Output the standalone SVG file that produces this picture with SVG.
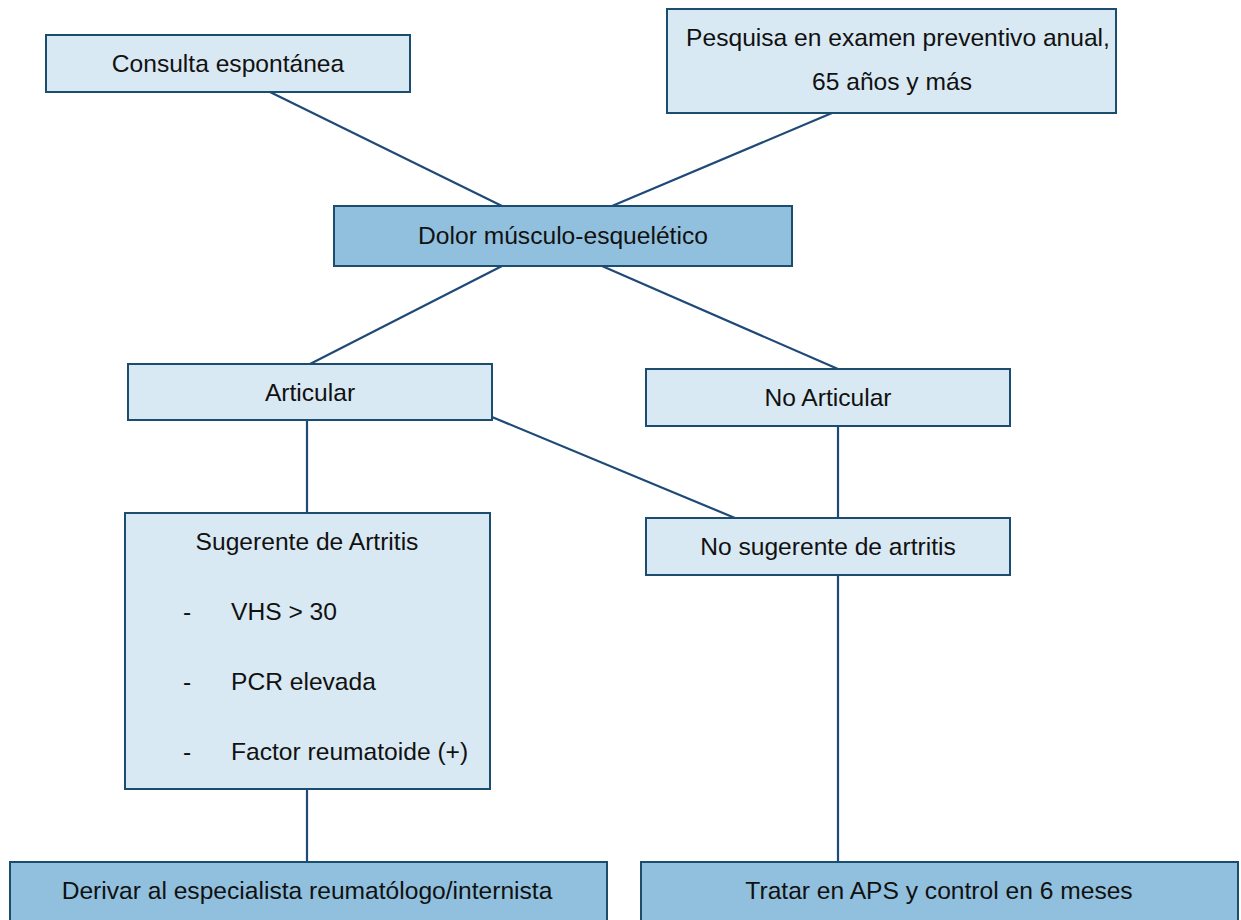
<svg xmlns="http://www.w3.org/2000/svg" width="1241" height="920" viewBox="0 0 1241 920">
<style>
.light{fill:#d9e9f3;stroke:#1a4d6e;stroke-width:2}
.dark{fill:#90c0de;stroke:#1a4d6e;stroke-width:2}
.t{font-family:"Liberation Sans",Arial,sans-serif;font-size:24.6px;fill:#111;text-anchor:middle;dominant-baseline:central}
.tl{text-anchor:start}
.conn line{stroke:#1f4a78;stroke-width:2.2}
</style>
<rect width="1241" height="920" fill="#fff"/>
<g class="conn">
<line x1="270" y1="92" x2="502" y2="206"/>
<line x1="832" y1="113" x2="612" y2="206"/>
<line x1="502" y1="266" x2="310" y2="364"/>
<line x1="602" y1="266" x2="838" y2="369"/>
<line x1="307" y1="420" x2="307" y2="513"/>
<line x1="492" y1="417" x2="735" y2="518"/>
<line x1="838" y1="426" x2="838" y2="518"/>
<line x1="307" y1="789" x2="307" y2="862"/>
<line x1="838" y1="575" x2="838" y2="862"/>
</g>
<g id="consulta"><rect class="light" x="46" y="35" width="364" height="57"/><text class="t" x="228" y="63">Consulta espontánea</text></g>
<g id="pesquisa"><rect class="light" x="667" y="9" width="449" height="104"/><text class="t" x="898" y="37">Pesquisa en examen preventivo anual,</text><text class="t" x="892" y="81">65 años y más</text></g>
<g id="dolor"><rect class="dark" x="334" y="206" width="458" height="60"/><text class="t" x="563" y="235">Dolor músculo-esquelético</text></g>
<g id="articular"><rect class="light" x="128" y="364" width="364" height="56"/><text class="t" x="310" y="392">Articular</text></g>
<g id="noarticular"><rect class="light" x="646" y="369" width="364" height="57"/><text class="t" x="828" y="397">No Articular</text></g>
<g id="sugerente"><rect class="light" x="125" y="513" width="365" height="276"/>
<text class="t" x="307" y="541">Sugerente de Artritis</text>
<text class="t tl" x="183" y="611">-</text><text class="t tl" x="231" y="611">VHS &gt; 30</text>
<text class="t tl" x="183" y="681">-</text><text class="t tl" x="231" y="681">PCR elevada</text>
<text class="t tl" x="183" y="751">-</text><text class="t tl" x="231" y="751">Factor reumatoide (+)</text>
</g>
<g id="nosugerente"><rect class="light" x="646" y="518" width="364" height="57"/><text class="t" x="828" y="546">No sugerente de artritis</text></g>
<g id="derivar"><rect class="dark" x="10" y="862" width="597" height="70"/><text class="t" x="307" y="890">Derivar al especialista reumatólogo/internista</text></g>
<g id="tratar"><rect class="dark" x="641" y="862" width="597" height="70"/><text class="t" x="939" y="890">Tratar en APS y control en 6 meses</text></g>
</svg>
